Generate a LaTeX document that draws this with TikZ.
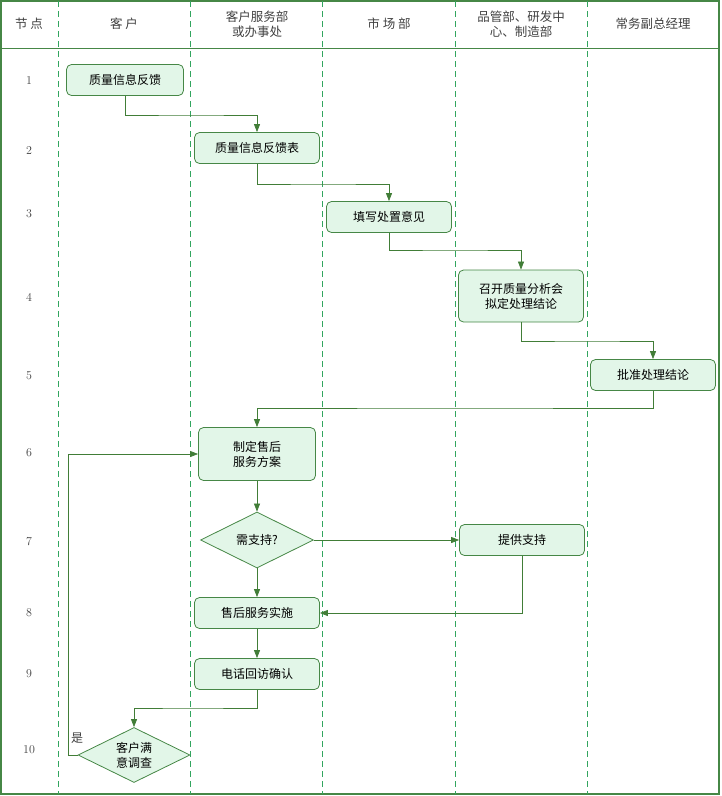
\documentclass[tikz,border=0pt]{standalone}
\usepackage{fontspec}
\newfontfamily\cjk{Noto Sans CJK SC}
\usetikzlibrary{shapes.geometric,arrows.meta}
\definecolor{bd}{RGB}{70,135,70}
\definecolor{dl}{RGB}{50,165,95}
\definecolor{fl}{RGB}{226,246,232}
\definecolor{ar}{RGB}{65,125,55}
\begin{document}
\begin{tikzpicture}[x=1pt,y=-1pt,
 box/.style={draw=bd,fill=fl,rounded corners=5pt,minimum height=31pt,align=center,font=\cjk\fontsize{12}{15}\selectfont,line width=0.8pt,inner sep=2pt},
 dia/.style={diamond,draw=bd,fill=fl,align=center,font=\cjk\fontsize{12}{15}\selectfont,line width=0.8pt,inner sep=0pt,minimum width=113pt,minimum height=56pt,aspect=2},
 hd/.style={font=\cjk\fontsize{12.5}{15}\selectfont,align=center,text=black!75},
 num/.style={font=\fontsize{12}{14}\selectfont,text=black!75},
 ln/.style={draw=ar,line width=0.7pt},
 arr/.style={ln,-{Triangle[length=8pt,width=6pt]}}]
\useasboundingbox (0,0) rectangle (721,796);
\draw[bd,line width=1.2pt] (1,1) rectangle (719,794);
\draw[bd,line width=1pt] (1,48) -- (719,48);
\foreach \x in {58,190,322,455,587} \draw[dl,dashed,dash pattern=on 6pt off 4pt,line width=0.8pt] (\x,1) -- (\x,794);
\node[hd] (h0) at (29,24) {节\ 点};
\node[hd] (h1) at (124,24) {客\ 户};
\node[hd] (h2) at (257,24) {客户服务部\\或办事处};
\node[hd] (h3) at (389,24) {市\ 场\ 部};
\node[hd] (h4) at (521,24) {品管部、研发中\\心、制造部};
\node[hd] (h5) at (653,24) {常务副总经理};
\foreach \n/\y in {1/81,2/151,3/214,4/297,5/376,6/453,7/542,8/613,9/674,10/750} \node[num] (r\n) at (29,\y) {\n};
\node[box,minimum width=117pt] (n1) at (125,80) {质量信息反馈};
\node[box,minimum width=125pt] (n2) at (257,148) {质量信息反馈表};
\node[box,minimum width=125pt] (n3) at (389,217) {填写处置意见};
\node[box,minimum width=125pt,minimum height=52pt] (n4) at (521,296) {召开质量分析会\\拟定处理结论};
\node[box,minimum width=125pt] (n5) at (653,375) {批准处理结论};
\node[box,minimum width=117pt,minimum height=53pt] (n6) at (257,454) {制定售后\\服务方案};
\node[dia] (n7) at (257,540) {需支持?};
\node[box,minimum width=125pt] (s) at (522,540) {提供支持};
\node[box,minimum width=125pt] (n8) at (257,613) {售后服务实施};
\node[box,minimum width=125pt] (n9) at (257,674) {电话回访确认};
\node[dia,minimum width=112pt,minimum height=55pt] (n10) at (134,755) {客户满\\意调查};
\coordinate (c1) at (68,755);
\draw[arr] (n1.south) |- (191,115) -| (n2.north);
\draw[arr] (n2.south) |- (323,184) -| (n3.north);
\draw[arr] (n3.south) |- (455,250) -| (n4.north);
\draw[arr] (n4.south) |- (587,341) -| (n5.north);
\draw[arr] (n5.south) |- (455,408) -| (n6.north);
\draw[arr] (n6) -- (n7);
\draw[arr] (n7) -- (s);
\draw[arr] (n7) -- (n8);
\draw[arr] (s.south) |- (n8.east);
\draw[arr] (n8) -- (n9);
\draw[arr] (n9.south) |- (190,708) -| (n10.north);
\draw[arr] (n10.west) -- (c1) |- (n6.west);
\node[font=\cjk\fontsize{12}{14}\selectfont,text=black!75] (yes) at (77,738) {是};
\end{tikzpicture}
\end{document}
